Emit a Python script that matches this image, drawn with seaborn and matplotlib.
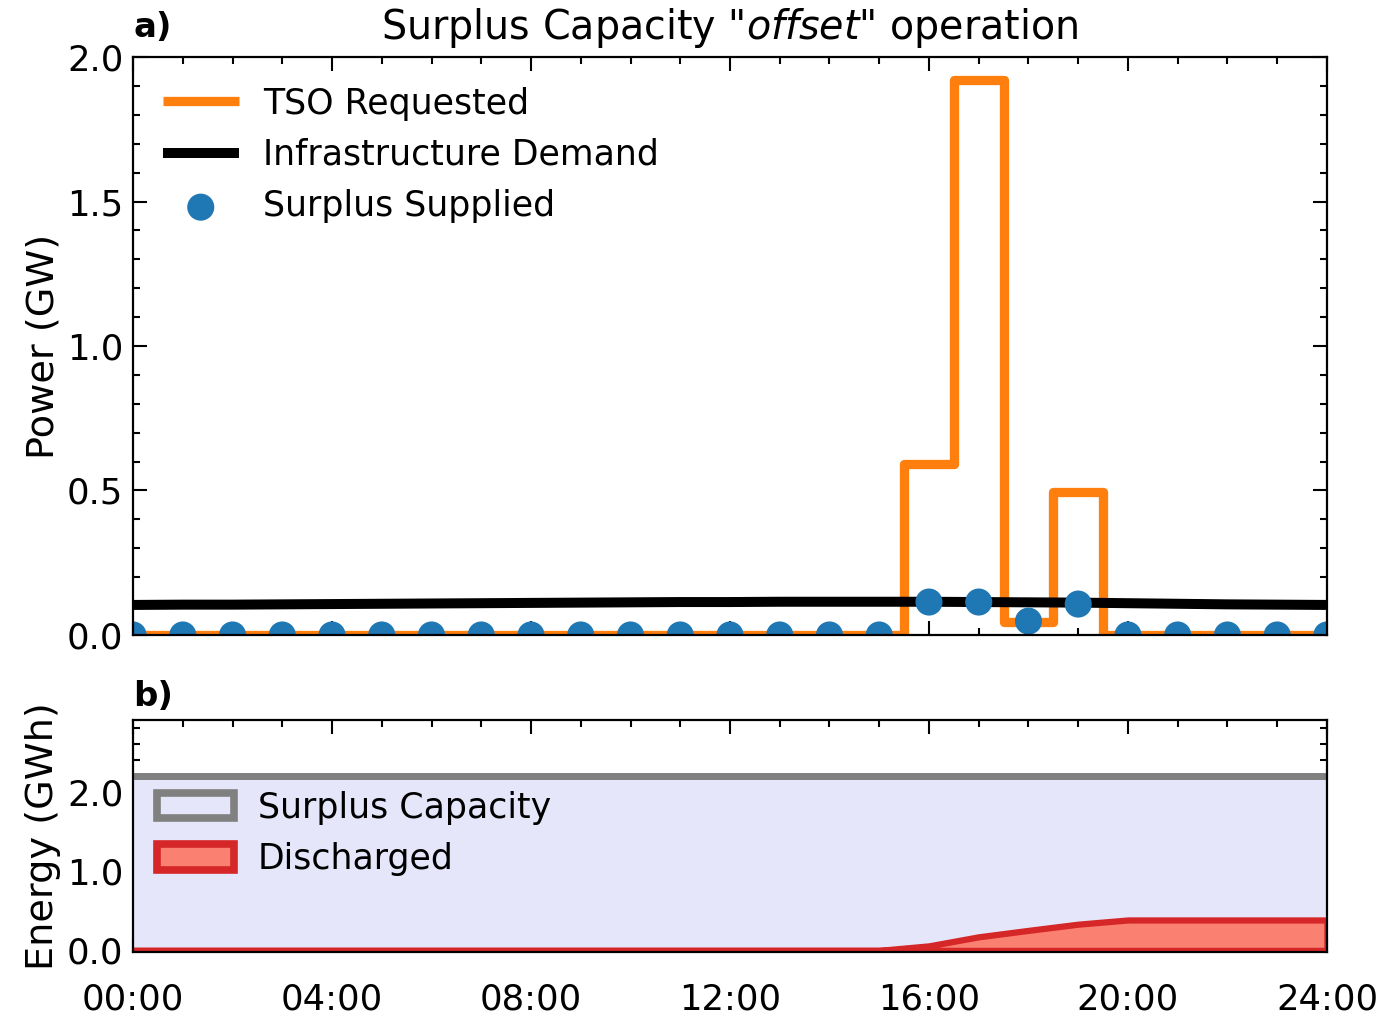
import numpy as np
import pandas as pd
import matplotlib
matplotlib.use("Agg")
import matplotlib.pyplot as plt
import seaborn as sns
from matplotlib.patches import Patch
from matplotlib.ticker import MultipleLocator

# ---------------- data ----------------
hours = list(range(25))
tso_requested = [0, 0, 0, 0, 0, 0, 0, 0, 0, 0, 0, 0, 0, 0, 0, 0,
                 0.59, 1.92, 0.045, 0.495, 0, 0, 0, 0, 0]
infra_demand = [0.104, 0.105, 0.105, 0.106, 0.107, 0.108, 0.109, 0.110, 0.111,
                0.112, 0.113, 0.114, 0.114, 0.115, 0.115, 0.115, 0.115, 0.114,
                0.113, 0.112, 0.110, 0.108, 0.106, 0.105, 0.104]
surplus_supplied = [0, 0, 0, 0, 0, 0, 0, 0, 0, 0, 0, 0, 0, 0, 0, 0,
                    0.114, 0.114, 0.048, 0.107, 0, 0, 0, 0, 0]
discharged = [0, 0, 0, 0, 0, 0, 0, 0, 0, 0, 0, 0, 0, 0, 0, 0,
              0.057, 0.171, 0.252, 0.330, 0.383, 0.383, 0.383, 0.383, 0.383]
surplus_capacity = 2.2
xtick_pos = [0, 4, 8, 12, 16, 20, 24]
xtick_labels = ["00:00", "04:00", "08:00", "12:00", "16:00", "20:00", "24:00"]

df = pd.DataFrame({"hour": hours, "tso": tso_requested, "infra": infra_demand,
                   "supplied": surplus_supplied, "discharged": discharged})

# ---------------- style ----------------
sns.set_style("ticks")
plt.rcParams["font.family"] = ["DejaVu Sans"]
plt.rcParams["font.size"] = 25
plt.rcParams["mathtext.fontset"] = "dejavusans"
plt.rcParams["text.color"] = "black"
plt.rcParams["axes.labelcolor"] = "black"
plt.rcParams["xtick.color"] = "black"
plt.rcParams["ytick.color"] = "black"
plt.rcParams["axes.edgecolor"] = "black"
plt.rcParams["lines.solid_capstyle"] = "butt"

fig = plt.figure(figsize=(13.99, 10.15), dpi=100)
ax1 = fig.add_axes([0.0951, 0.3744, 0.8534, 0.5694])
ax2 = fig.add_axes([0.0951, 0.0621, 0.8534, 0.2285])

LBL = 27.5
TCK = 25.5
LEG = 25

# ---- panel a ----
sns.lineplot(data=df, x="hour", y="tso", ax=ax1, color="#ff7f0e", lw=6.7,
             drawstyle="steps-mid", label="TSO Requested", zorder=2)
sns.lineplot(data=df, x="hour", y="infra", ax=ax1, color="black", lw=7.2,
             label="Infrastructure Demand", zorder=3)
sns.scatterplot(data=df, x="hour", y="supplied", ax=ax1, color="#1f77b4",
                s=380, edgecolor="none", label="Surplus Supplied", zorder=4)
ax1.set_xlim(0, 24)
ax1.set_ylim(0, 2.0)
ax1.set_xlabel("")
ax1.set_ylabel("Power (GW)", fontsize=LBL)
ax1.yaxis.set_major_locator(MultipleLocator(0.5))
ax1.yaxis.set_minor_locator(MultipleLocator(0.1))
ax1.set_xticks(xtick_pos)
ax1.set_xticklabels([])
ax1.xaxis.set_minor_locator(MultipleLocator(1))
ax1.set_title('Surplus Capacity "$\\it{offset}$" operation', fontsize=28.5, pad=13)
ax1.text(0.0, 1.022, "a)", transform=ax1.transAxes, fontsize=24.5,
         fontweight="bold", ha="left", va="bottom")
ax1.legend(loc="upper left", frameon=False, fontsize=LEG,
           handlelength=2.2, handletextpad=0.7, labelspacing=0.5,
           borderaxespad=0.4, borderpad=0.45, markerscale=1.0)

# ---- panel b ----
ax2.fill_between(hours, 0, surplus_capacity, color="lavender", lw=0, zorder=1)
sns.lineplot(x=[0, 24], y=[surplus_capacity, surplus_capacity], ax=ax2,
             color="grey", lw=5, zorder=2)
ax2.fill_between(hours, 0, discharged, facecolor="salmon", edgecolor="#d62728",
                 lw=4.5, zorder=3)
ax2.set_xlim(0, 24)
ax2.set_ylim(-0.02, 2.9)
ax2.set_ylabel("Energy (GWh)", fontsize=LBL)
ax2.set_yticks([0, 1, 2])
ax2.set_yticklabels(["0.0", "1.0", "2.0"])
ax2.yaxis.set_minor_locator(MultipleLocator(0.2))
ax2.set_xticks(xtick_pos)
ax2.set_xticklabels(xtick_labels)
ax2.xaxis.set_minor_locator(MultipleLocator(1))
ax2.text(0.0, 1.03, "b)", transform=ax2.transAxes, fontsize=24.5,
         fontweight="bold", ha="left", va="bottom")
handles = [Patch(facecolor="lavender", edgecolor="grey", lw=5.5, joinstyle="round"),
           Patch(facecolor="salmon", edgecolor="#d62728", lw=5.5, joinstyle="round")]
ax2.legend(handles, ["Surplus Capacity", "Discharged"], loc="upper left",
           bbox_to_anchor=(0.0, 0.80), frameon=False, fontsize=LEG,
           handlelength=2.2, handleheight=0.75, handletextpad=0.7,
           labelspacing=0.5, borderaxespad=0.3, borderpad=0.4)

for ax in (ax1, ax2):
    ax.tick_params(which="both", direction="in", top=True, right=True,
                   labelsize=TCK, width=1.5, color="black")
    ax.tick_params(which="major", length=10)
    ax.tick_params(which="minor", length=5)
    ax.tick_params(axis="y", which="major", pad=7)
    for s in ax.spines.values():
        s.set_linewidth(1.6)
        s.set_color("black")
        s.set_zorder(10)
ax2.tick_params(axis="x", which="major", pad=22)

fig.align_ylabels([ax1, ax2])
fig.savefig("out.png", dpi=100)
